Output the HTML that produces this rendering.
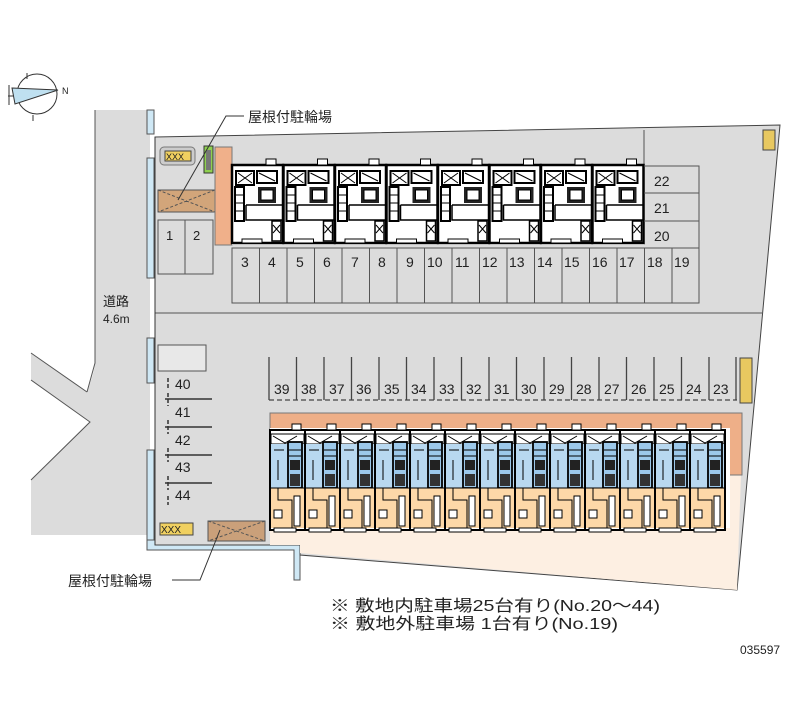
<!DOCTYPE html>
<html><head><meta charset="utf-8"><style>
html,body{margin:0;padding:0;background:#fff;width:800px;height:727px;overflow:hidden}
svg{display:block}
text{font-family:"Liberation Sans","Noto Sans CJK JP",sans-serif;fill:#222}
</style></head><body>
<svg width="800" height="727" viewBox="0 0 800 727" xmlns="http://www.w3.org/2000/svg">
<defs>
<g id="uu">
<rect x="0" y="0" width="51" height="78" fill="#fff" stroke="#000" stroke-width="2.5"/>
<rect x="4" y="6" width="18" height="14" fill="#fff" stroke="#000" stroke-width="2"/>
<rect x="25" y="6" width="20" height="12" fill="#fff" stroke="#000" stroke-width="2"/>
<path d="M6 8 L20 18 M20 8 L6 18 M27 8 L43 16" stroke="#000"/>
<rect x="26" y="22" width="18" height="16" fill="#222"/>
<rect x="29" y="25" width="12" height="10" fill="#fff" stroke="#000"/>
<rect x="3" y="22" width="9" height="34" fill="#fff" stroke="#000" stroke-width="2"/>
<path d="M4 30 H11 M4 38 H11 M4 46 H11" stroke="#000"/>
<path d="M14 40 H51 M14 40 V55 H51" fill="none" stroke="#000" stroke-width="1.5"/>
<rect x="40" y="56" width="9" height="20" fill="#fff" stroke="#000" stroke-width="1.5"/>
<path d="M41 60 L48 68 M48 60 L41 68" stroke="#000"/>
<rect x="34" y="-6" width="10" height="6" fill="#fff" stroke="#000"/>
<rect x="10" y="74" width="20" height="4" fill="#fff" stroke="#000"/>
</g>
<g id="lu">
<rect x="0" y="0" width="35" height="100" fill="#fff" stroke="#000" stroke-width="2"/>
<rect x="1" y="4" width="33" height="10" fill="#fff" stroke="#000"/>
<path d="M3 6 L15 13 L27 6" fill="none" stroke="#000"/>
<rect x="1" y="14" width="33" height="44" fill="#b8d8f0"/>
<rect x="18" y="12" width="14" height="46" fill="#9cc8ea" stroke="#000" stroke-width="1.8"/>
<path d="M19 20 H31 M19 26 H31" stroke="#000"/>
<rect x="20" y="30" width="10" height="10" fill="#222"/>
<rect x="20" y="44" width="10" height="12" fill="#333"/>
<path d="M4 20 H14 M8 30 V50" stroke="#000"/>
<rect x="1" y="58" width="33" height="40" fill="#fdd8a8"/>
<path d="M1 58 H34 M8 58 V70 H22 V98" fill="none" stroke="#000" stroke-width="1"/>
<rect x="24" y="66" width="6" height="30" fill="#fff" stroke="#000"/>
<rect x="4" y="80" width="8" height="8" fill="#fff" stroke="#000"/>
<rect x="22" y="-6" width="9" height="6" fill="#fff" stroke="#000"/>
<rect x="4" y="98" width="22" height="4" fill="#fff" stroke="#000"/>
</g>
</defs>

<!-- compass -->
<circle cx="37" cy="94" r="20" fill="#fff" stroke="#333"/>
<path d="M12 88 L58 90 L15 104 Z" fill="#bfe0f0" stroke="#333"/>
<path d="M27 73 V79 M33 115 V121 M8 96 H14 M9 85 V105" stroke="#333"/>
<text x="62" y="94" font-size="9">N</text>

<!-- road -->
<path d="M95 110 H150 V535 H31 V480 L90 422 L31 380 V353 L87 392 Q95 370 95 363 Z" fill="#dcdcdc"/>
<path d="M95 110 V363 L87 392" fill="none" stroke="#555"/>
<path d="M31 353 L87 392 M31 380 L90 422 L31 480" fill="none" stroke="#555"/>
<text x="103" y="306" font-size="13">道路</text>
<text x="103" y="323" font-size="12" font-family="Liberation Mono">4.6m</text>
<g fill="#cfe8f5" stroke="#555">
<rect x="147" y="110" width="7" height="24"/>
<rect x="147" y="158" width="7" height="120"/>
<rect x="147" y="338" width="7" height="45"/>
<rect x="147" y="450" width="7" height="95"/>
<path d="M147 540 H300 V580 H294 V550 H147 Z"/>
</g>

<!-- site -->
<path d="M155 137 L780 125 L737 590 L300 555 V545 H155 Z" fill="#dcdcdc" stroke="#444"/>
<path d="M270 475 H741 L737 590 L300 553 V545 H270 Z" fill="#fdefe2"/>
<path d="M155 313 H762" stroke="#555"/>
<path d="M644 130 V166" stroke="#555"/>
<path d="M155 137 V545" stroke="#333"/>

<rect x="160" y="147" width="35" height="18" rx="4" fill="#ccc" stroke="#777"/>
<rect x="165" y="151" width="26" height="10" fill="#f0d060" stroke="#444"/>
<text x="166" y="160" font-size="9">XXX</text>
<rect x="204" y="146" width="9" height="27" fill="#8fd050" stroke="#333"/>
<rect x="206" y="150" width="5" height="20" fill="#777"/>
<rect x="158" y="190" width="57" height="22" fill="#d2a57a" stroke="#555"/>
<path d="M158 190 L215 212 M215 190 L158 212" stroke="#555" stroke-dasharray="3 2"/>
<rect x="215" y="147" width="17" height="98" fill="#f0b08a" stroke="#777"/>
<g fill="none" stroke="#555">
<rect x="158" y="220" width="27" height="54"/><rect x="185" y="220" width="28" height="54"/>
</g>
<text x="166" y="240" font-size="13">1</text><text x="193" y="240" font-size="13">2</text>

<rect x="232" y="165" width="412" height="80" fill="#fff"/>
<use href="#uu" x="232" y="165"/><use href="#uu" x="283.5" y="165"/><use href="#uu" x="335" y="165"/><use href="#uu" x="386.5" y="165"/>
<use href="#uu" x="438" y="165"/><use href="#uu" x="489.5" y="165"/><use href="#uu" x="541" y="165"/><use href="#uu" x="592.5" y="165"/>

<g fill="none" stroke="#555">
<path d="M232 248 H699 V303 H232 Z M259.5 248V303 M287 248V303 M314.5 248V303 M342 248V303 M369.5 248V303 M397 248V303 M424.5 248V303 M452 248V303 M479.5 248V303 M507 248V303 M534.5 248V303 M562 248V303 M589.5 248V303 M617 248V303 M644.5 248V303 M672 248V303"/>
<path d="M644 166 H699 V248 M644 193 H699 M644 221 H699"/>
</g>
<g font-size="14" font-family="Liberation Sans Narrow">
<text x="241" y="267">3</text><text x="268" y="267">4</text><text x="296" y="267">5</text><text x="323" y="267">6</text><text x="351" y="267">7</text><text x="378" y="267">8</text><text x="406" y="267">9</text>
<text x="427" y="267">10</text><text x="455" y="267">11</text><text x="482" y="267">12</text><text x="509" y="267">13</text><text x="537" y="267">14</text><text x="564" y="267">15</text><text x="592" y="267">16</text><text x="619" y="267">17</text><text x="647" y="267">18</text><text x="674" y="267">19</text>
<text x="654" y="186">22</text><text x="654" y="213">21</text><text x="654" y="241">20</text>
</g>
<rect x="763" y="130" width="12" height="20" fill="#e8c860" stroke="#444"/>

<rect x="158" y="345" width="48" height="26" fill="#e8e8e8" stroke="#555"/>
<g stroke="#333" stroke-width="1.5">
<path d="M165 399 H212 M165 427 H212 M165 455 H212 M165 483 H212"/>
<path d="M168 378 V390 M168 393 V406 M168 420 V434 M168 448 V462 M168 476 V490 M168 496 V505" stroke-dasharray="4 2"/>
</g>
<g font-size="14" font-family="Liberation Sans Narrow"><text x="175" y="389">40</text><text x="175" y="417">41</text><text x="175" y="445">42</text><text x="175" y="472">43</text><text x="175" y="500">44</text></g>
<rect x="160" y="523" width="33" height="12" fill="#f0d060" stroke="#444"/>
<text x="161" y="533" font-size="10">XXX</text>
<rect x="208" y="521" width="57" height="20" fill="#caa07a" stroke="#555"/>
<path d="M208 521 L265 541 M265 521 L208 541" stroke="#555" stroke-dasharray="3 2"/>

<g stroke="#444" stroke-width="1.3">
<path d="M269 357V400 M296.5 357V400 M324 357V400 M351.5 357V400 M379 357V400 M406.5 357V400 M434 357V400 M461.5 357V400 M489 357V400 M516.5 357V400 M544 357V400 M571.5 357V400 M599 357V400 M626.5 357V400 M654 357V400 M681.5 357V400 M709 357V400 M736 357V400"/>
<path d="M269 400 H737" stroke-dasharray="5 3"/>
</g>
<rect x="740" y="358" width="12" height="45" fill="#e8c860" stroke="#444"/>
<g font-size="14" font-family="Liberation Sans Narrow">
<text x="274" y="394">39</text><text x="301" y="394">38</text><text x="329" y="394">37</text><text x="356" y="394">36</text><text x="384" y="394">35</text><text x="411" y="394">34</text><text x="439" y="394">33</text><text x="466" y="394">32</text><text x="494" y="394">31</text><text x="521" y="394">30</text><text x="549" y="394">29</text><text x="576" y="394">28</text><text x="604" y="394">27</text><text x="631" y="394">26</text><text x="659" y="394">25</text><text x="686" y="394">24</text><text x="713" y="394">23</text>
</g>

<rect x="270" y="413" width="472" height="62" fill="#eeaf88" stroke="#777"/>
<rect x="270" y="428" width="460" height="100" fill="#fff"/>
<use href="#lu" x="270" y="430"/><use href="#lu" x="305" y="430"/><use href="#lu" x="340" y="430"/><use href="#lu" x="375" y="430"/><use href="#lu" x="410" y="430"/>
<use href="#lu" x="445" y="430"/><use href="#lu" x="480" y="430"/><use href="#lu" x="515" y="430"/><use href="#lu" x="550" y="430"/><use href="#lu" x="585" y="430"/>
<use href="#lu" x="620" y="430"/><use href="#lu" x="655" y="430"/><use href="#lu" x="690" y="430"/>

<text x="248" y="122" font-size="14">屋根付駐輪場</text>
<path d="M244 116 H226 L178 200" fill="none" stroke="#333"/>
<text x="68" y="586" font-size="14">屋根付駐輪場</text>
<path d="M172 580 H200 L220 530" fill="none" stroke="#333"/>
<text x="330" y="611" font-size="16" textLength="330" lengthAdjust="spacingAndGlyphs">※ 敷地内駐車場25台有り(No.20～44)</text>
<text x="330" y="629" font-size="16" textLength="288" lengthAdjust="spacingAndGlyphs">※ 敷地外駐車場 1台有り(No.19)</text>
<text x="740" y="654" font-size="12">035597</text>
</svg>
</body></html>
